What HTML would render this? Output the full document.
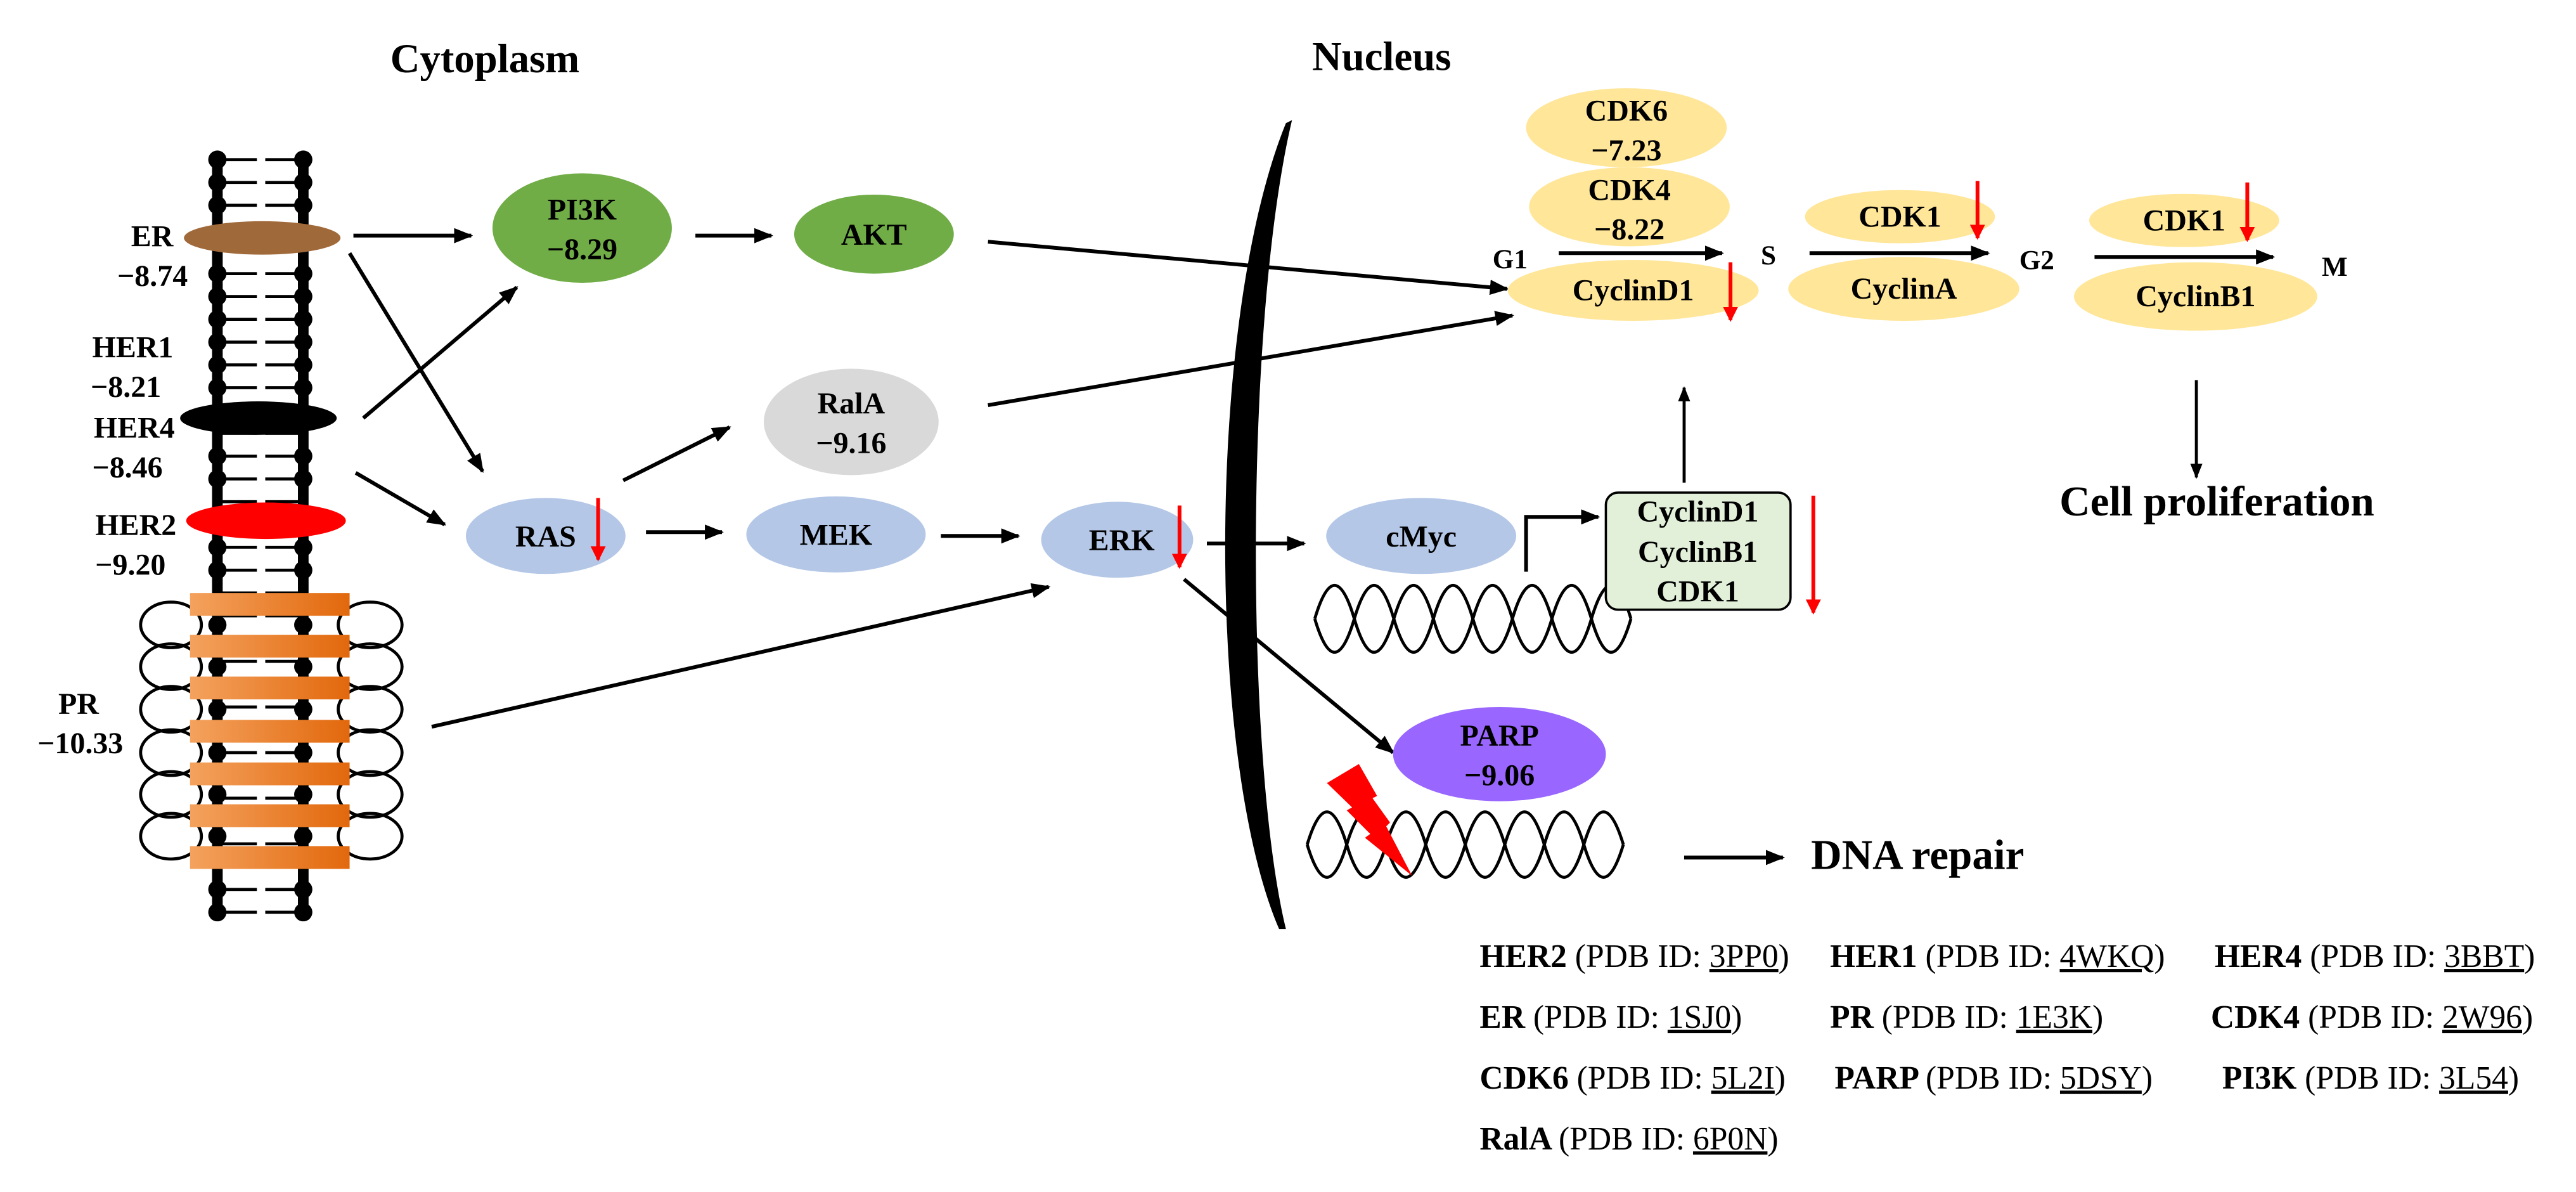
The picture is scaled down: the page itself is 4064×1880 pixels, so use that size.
<!DOCTYPE html>
<html><head><meta charset="utf-8"><style>
html,body{margin:0;padding:0;background:#fff;}
svg{display:block;}
text{font-family:"Liberation Serif",serif;font-weight:bold;fill:#000;}
.n{font-weight:normal;}
</style></head><body>
<svg width="4064" height="1880" viewBox="0 0 3389.5 1568" xmlns="http://www.w3.org/2000/svg">
<defs>
<marker id="a" markerWidth="5" markerHeight="4" refX="4.5" refY="2" orient="auto" markerUnits="strokeWidth"><path d="M0,0 L5,2 L0,4 Z" fill="#000"/></marker>
<marker id="ar" markerWidth="4" markerHeight="4" refX="3.5" refY="2" orient="auto" markerUnits="strokeWidth"><path d="M0,0 L4,2 L0,4 Z" fill="#f00"/></marker>
<linearGradient id="og" x1="0" x2="1"><stop offset="0" stop-color="#f4a25e"/><stop offset="1" stop-color="#e2680c"/></linearGradient>
</defs>
<rect width="3389.5" height="1568" fill="#fff"/>

<text x="638" y="95" font-size="54" text-anchor="middle">Cytoplasm</text>
<text x="1818" y="92" font-size="54" text-anchor="middle">Nucleus</text>

<!-- membrane -->
<g stroke="#000" stroke-width="4">
<path d="M286,210 H338 M349,210 H399 M286,240 H338 M349,240 H399 M286,270 H338 M349,270 H399 M286,300 H338 M349,300 H399 M286,330 H338 M349,330 H399 M286,360 H338 M349,360 H399 M286,390 H338 M349,390 H399 M286,420 H338 M349,420 H399 M286,450 H338 M349,450 H399 M286,480 H338 M349,480 H399 M286,510 H338 M349,510 H399 M286,540 H338 M349,540 H399 M286,570 H338 M349,570 H399 M286,600 H338 M349,600 H399 M286,630 H338 M349,630 H399 M286,660 H338 M349,660 H399 M286,690 H338 M349,690 H399 M286,720 H338 M349,720 H399 M286,750 H338 M349,750 H399 M286,780 H338 M349,780 H399 M286,810 H338 M349,810 H399 M286,840 H338 M349,840 H399 M286,870 H338 M349,870 H399 M286,900 H338 M349,900 H399 M286,930 H338 M349,930 H399 M286,960 H338 M349,960 H399 M286,990 H338 M349,990 H399 M286,1020 H338 M349,1020 H399 M286,1050 H338 M349,1050 H399 M286,1080 H338 M349,1080 H399 M286,1110 H338 M349,1110 H399 M286,1140 H338 M349,1140 H399 M286,1170 H338 M349,1170 H399 M286,1200 H338 M349,1200 H399"/>
<path d="M286,210 V1210 M399,210 V1210" stroke-width="14"/>
</g>
<g fill="#000">
<circle cx="286" cy="210" r="12"/><circle cx="399" cy="210" r="12"/>
<circle cx="286" cy="240" r="12"/><circle cx="399" cy="240" r="12"/>
<circle cx="286" cy="270" r="12"/><circle cx="399" cy="270" r="12"/>
<circle cx="286" cy="360" r="12"/><circle cx="399" cy="360" r="12"/>
<circle cx="286" cy="390" r="12"/><circle cx="399" cy="390" r="12"/>
<circle cx="286" cy="420" r="12"/><circle cx="399" cy="420" r="12"/>
<circle cx="286" cy="450" r="12"/><circle cx="399" cy="450" r="12"/>
<circle cx="286" cy="480" r="12"/><circle cx="399" cy="480" r="12"/>
<circle cx="286" cy="510" r="12"/><circle cx="399" cy="510" r="12"/>
<circle cx="286" cy="600" r="12"/><circle cx="399" cy="600" r="12"/>
<circle cx="286" cy="630" r="12"/><circle cx="399" cy="630" r="12"/>
<circle cx="286" cy="720" r="12"/><circle cx="399" cy="720" r="12"/>
<circle cx="286" cy="750" r="12"/><circle cx="399" cy="750" r="12"/>
<circle cx="286" cy="1170" r="12"/><circle cx="399" cy="1170" r="12"/>
<circle cx="286" cy="1200" r="12"/><circle cx="399" cy="1200" r="12"/>
<circle cx="286" cy="822" r="12"/><circle cx="399" cy="822" r="12"/>
<circle cx="286" cy="877" r="12"/><circle cx="399" cy="877" r="12"/>
<circle cx="286" cy="933" r="12"/><circle cx="399" cy="933" r="12"/>
<circle cx="286" cy="990" r="12"/><circle cx="399" cy="990" r="12"/>
<circle cx="286" cy="1045" r="12"/><circle cx="399" cy="1045" r="12"/>
<circle cx="286" cy="1100" r="12"/><circle cx="399" cy="1100" r="12"/>
</g>
<!-- loops -->
<g fill="none" stroke="#000" stroke-width="4">
<ellipse cx="225" cy="822" rx="40" ry="30"/><ellipse cx="225" cy="877" rx="40" ry="30"/><ellipse cx="225" cy="933" rx="40" ry="30"/><ellipse cx="225" cy="990" rx="40" ry="30"/><ellipse cx="225" cy="1045" rx="40" ry="30"/><ellipse cx="225" cy="1100" rx="40" ry="30"/>
<ellipse cx="487" cy="822" rx="42" ry="30"/><ellipse cx="487" cy="877" rx="42" ry="30"/><ellipse cx="487" cy="933" rx="42" ry="30"/><ellipse cx="487" cy="990" rx="42" ry="30"/><ellipse cx="487" cy="1045" rx="42" ry="30"/><ellipse cx="487" cy="1100" rx="42" ry="30"/>
</g>
<g fill="url(#og)">
<rect x="250" y="780" width="210" height="30"/><rect x="250" y="835" width="210" height="30"/><rect x="250" y="890" width="210" height="30"/><rect x="250" y="947" width="210" height="30"/><rect x="250" y="1003" width="210" height="30"/><rect x="250" y="1058" width="210" height="30"/><rect x="250" y="1113" width="210" height="30"/>
</g>
<ellipse cx="345" cy="313" rx="103" ry="22" fill="#a0693a"/>
<ellipse cx="340" cy="550" rx="103" ry="22" fill="#000"/>
<ellipse cx="350" cy="685" rx="105" ry="24" fill="#ff0000"/>

<g font-size="40" text-anchor="end">
<text x="228" y="324">ER</text>
<text x="247" y="376">−8.74</text>
<text x="228" y="470">HER1</text>
<text x="212" y="522">−8.21</text>
<text x="230" y="576">HER4</text>
<text x="214" y="628">−8.46</text>
<text x="232" y="704">HER2</text>
<text x="218" y="756">−9.20</text>
<text x="130" y="939">PR</text>
<text x="162" y="991">−10.33</text>
</g>

<!-- nodes left -->
<ellipse cx="766" cy="300" rx="118" ry="72" fill="#70ad47"/>
<ellipse cx="1150" cy="308" rx="105" ry="52" fill="#70ad47"/>
<ellipse cx="1120" cy="555" rx="115" ry="70" fill="#d9d9d9"/>
<ellipse cx="718" cy="705" rx="105" ry="50" fill="#b4c7e7"/>
<ellipse cx="1100" cy="703" rx="118" ry="50" fill="#b4c7e7"/>
<ellipse cx="1470" cy="710" rx="100" ry="50" fill="#b4c7e7"/>
<g font-size="40" text-anchor="middle">
<text x="766" y="289">PI3K</text><text x="766" y="341">−8.29</text>
<text x="1150" y="322">AKT</text>
<text x="1120" y="544" fill="#333">RalA</text><text x="1120" y="596" fill="#333">−9.16</text>
<text x="718" y="719">RAS</text>
<text x="1100" y="717">MEK</text>
<text x="1476" y="724">ERK</text>
</g>

<!-- nucleus membrane -->
<path d="M1692,162 C1587,420 1587,1000 1683,1222 L1692,1222 C1638,1000 1638,420 1700,158 Z" fill="#000"/>

<!-- black arrows -->
<g stroke="#000" stroke-width="5" fill="none" marker-end="url(#a)">
<line x1="465" y1="310" x2="620" y2="310"/>
<line x1="460" y1="333" x2="635" y2="620"/>
<line x1="478" y1="550" x2="680" y2="378"/>
<line x1="468" y1="622" x2="585" y2="690"/>
<line x1="915" y1="310" x2="1015" y2="310"/>
<line x1="820" y1="632" x2="960" y2="562"/>
<line x1="850" y1="700" x2="950" y2="700"/>
<line x1="1238" y1="705" x2="1340" y2="705"/>
<line x1="568" y1="956" x2="1380" y2="772"/>
<line x1="1300" y1="318" x2="1983" y2="380"/>
<line x1="1300" y1="533" x2="1990" y2="415"/>
<line x1="1588" y1="715" x2="1716" y2="715"/>
<line x1="1558" y1="762" x2="1833" y2="990"/>
<line x1="2890" y1="500" x2="2890" y2="628" stroke-width="4"/>
<line x1="2216" y1="635" x2="2216" y2="510" stroke-width="4"/>
<line x1="2216" y1="1128" x2="2346" y2="1128"/>
<polyline points="2008,752 2008,680 2103,680"/>
</g>

<!-- red arrows -->
<g stroke="#f00" stroke-width="5" fill="none" marker-end="url(#ar)">
<line x1="787" y1="655" x2="787" y2="736"/>
<line x1="1552" y1="665" x2="1552" y2="746"/>
<line x1="2386" y1="652" x2="2386" y2="806"/>
</g>

<!-- cell cycle -->
<g fill="#ffe699">
<ellipse cx="2140" cy="168" rx="132" ry="52"/>
<ellipse cx="2144" cy="272" rx="132" ry="52"/>
<ellipse cx="2149" cy="382" rx="165" ry="40"/>
<ellipse cx="2500" cy="285" rx="125" ry="35"/>
<ellipse cx="2505" cy="380" rx="152" ry="42"/>
<ellipse cx="2874" cy="290" rx="125" ry="35"/>
<ellipse cx="2889" cy="390" rx="160" ry="45"/>
</g>
<g stroke="#000" stroke-width="5" fill="none" marker-end="url(#a)">
<line x1="2051" y1="333" x2="2266" y2="333"/>
<line x1="2381" y1="333" x2="2616" y2="333"/>
<line x1="2756" y1="338" x2="2991" y2="338"/>
</g>
<g stroke="#f00" stroke-width="5" fill="none" marker-end="url(#ar)">
<line x1="2277" y1="345" x2="2277" y2="421"/>
<line x1="2602" y1="238" x2="2602" y2="313"/>
<line x1="2957" y1="240" x2="2957" y2="316"/>
</g>
<g font-size="40" text-anchor="middle">
<text x="2140" y="159">CDK6</text><text x="2140" y="211">−7.23</text>
<text x="2144" y="263">CDK4</text><text x="2144" y="315">−8.22</text>
<text x="2149" y="395">CyclinD1</text>
<text x="2500" y="298">CDK1</text>
<text x="2505" y="393">CyclinA</text>
<text x="2874" y="303">CDK1</text>
<text x="2889" y="403">CyclinB1</text>
</g>
<g font-size="36" text-anchor="middle">
<text x="1987" y="353">G1</text>
<text x="2327" y="348">S</text>
<text x="2680" y="354">G2</text>
<text x="3072" y="363">M</text>
</g>
<text x="2917" y="678" font-size="56" text-anchor="middle">Cell proliferation</text>

<!-- cMyc / box -->
<ellipse cx="1870" cy="705" rx="125" ry="50" fill="#b4c7e7"/>
<text x="1870" y="719" font-size="40" text-anchor="middle">cMyc</text>
<g fill="none" stroke="#000" stroke-width="4">
<path d="M1730,814 Q1756,726 1782,814 T1834,814 T1886,814 T1938,814 T1990,814 T2042,814 T2094,814 T2146,814"/>
<path d="M1730,814 Q1756,902 1782,814 T1834,814 T1886,814 T1938,814 T1990,814 T2042,814 T2094,814 T2146,814"/>
</g>
<rect x="2113" y="648" width="243" height="154" rx="16" fill="#e2f0d9" stroke="#000" stroke-width="3"/>
<g font-size="40" text-anchor="middle">
<text x="2234" y="686">CyclinD1</text>
<text x="2234" y="739">CyclinB1</text>
<text x="2234" y="791">CDK1</text>
</g>

<!-- PARP -->
<ellipse cx="1973" cy="992" rx="140" ry="62" fill="#9966ff"/>
<g font-size="40" text-anchor="middle">
<text x="1973" y="981">PARP</text><text x="1973" y="1033">−9.06</text>
</g>
<g fill="none" stroke="#000" stroke-width="4">
<path d="M1720,1111 Q1746,1025 1772,1111 T1824,1111 T1876,1111 T1928,1111 T1980,1111 T2032,1111 T2084,1111 T2136,1111"/>
<path d="M1720,1111 Q1746,1197 1772,1111 T1824,1111 T1876,1111 T1928,1111 T1980,1111 T2032,1111 T2084,1111 T2136,1111"/>
</g>
<polygon points="1746,1030 1788,1005 1812,1047 1806,1050 1829,1082 1824,1087 1858,1152 1796,1102 1803,1097 1772,1066 1779,1062" fill="#f00"/>
<text x="2383" y="1143" font-size="56">DNA repair</text>

<!-- PDB table -->
<g font-size="43">
<text x="1947" y="1272">HER2 <tspan class="n">(PDB ID: <tspan text-decoration="underline">3PP0</tspan>)</tspan></text>
<text x="2408" y="1272">HER1 <tspan class="n">(PDB ID: <tspan text-decoration="underline">4WKQ</tspan>)</tspan></text>
<text x="2914" y="1272">HER4 <tspan class="n">(PDB ID: <tspan text-decoration="underline">3BBT</tspan>)</tspan></text>
<text x="1947" y="1352">ER <tspan class="n">(PDB ID: <tspan text-decoration="underline">1SJ0</tspan>)</tspan></text>
<text x="2408" y="1352">PR <tspan class="n">(PDB ID: <tspan text-decoration="underline">1E3K</tspan>)</tspan></text>
<text x="2909" y="1352">CDK4 <tspan class="n">(PDB ID: <tspan text-decoration="underline">2W96</tspan>)</tspan></text>
<text x="1947" y="1432">CDK6 <tspan class="n">(PDB ID: <tspan text-decoration="underline">5L2I</tspan>)</tspan></text>
<text x="2414" y="1432">PARP <tspan class="n">(PDB ID: <tspan text-decoration="underline">5DSY</tspan>)</tspan></text>
<text x="2924" y="1432">PI3K <tspan class="n">(PDB ID: <tspan text-decoration="underline">3L54</tspan>)</tspan></text>
<text x="1947" y="1512">RalA <tspan class="n">(PDB ID: <tspan text-decoration="underline">6P0N</tspan>)</tspan></text>
</g>
</svg>
</body></html>
